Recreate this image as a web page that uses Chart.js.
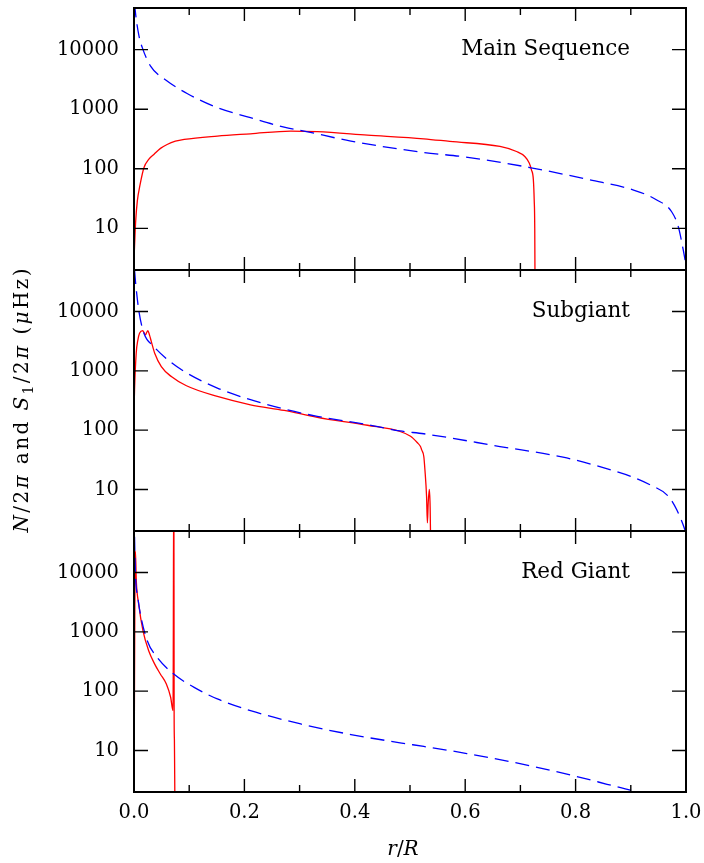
<!DOCTYPE html>
<html>
<head>
<meta charset="utf-8">
<script src="https://cdn.jsdelivr.net/npm/chart.js@4"></script>
<style>
  body { margin: 0; background: #fff; }
  #wrap { position: relative; width: 704px; height: 863px; }
  #wrap canvas { position: absolute; left: 0; top: 0; }
</style>
</head>
<body>
<div id="wrap">
  <canvas id="p1" width="704" height="863"></canvas>
  <canvas id="p2" width="704" height="863"></canvas>
  <canvas id="p3" width="704" height="863"></canvas>
</div>
<script>
// tick values
const xTicks = [0, 0.1, 0.2, 0.3, 0.4, 0.5, 0.6, 0.7, 0.8, 0.9, 1.0];
const yTicks = [10, 100, 1000, 10000];

// Main sequence
const msRN = [0.001, 0.003, 0.009, 0.015, 0.030, 0.060, 0.097, 0.151, 0.211, 0.272, 0.308, 0.393, 0.525, 0.600, 0.717, 0.826, 0.905, 0.947, 0.974, 0.986, 0.995, 1.0];
const msN  = [60000, 39000, 17000, 10800, 5300, 2980, 1820, 1060, 720, 500, 430, 292, 188, 158, 105, 65, 44, 30, 19, 10.7, 4.35, 2.4];
const msRS = [0.0, 0.001, 0.003, 0.006, 0.011, 0.018, 0.027, 0.036, 0.048, 0.060, 0.075, 0.091, 0.151, 0.211, 0.284, 0.332, 0.423, 0.525, 0.572, 0.663, 0.693, 0.708, 0.716, 0.720, 0.7235, 0.725, 0.726, 0.7265];
const msS  = [3, 5, 13, 28.6, 54, 104, 145, 174, 220, 256, 290, 311, 354, 387, 430, 419, 368, 319, 288, 237, 195, 161, 125, 96, 65, 30, 10, 1];

// Subgiant
const sgRN = [0.001, 0.003, 0.009, 0.018, 0.036, 0.060, 0.091, 0.151, 0.211, 0.272, 0.332, 0.423, 0.482, 0.525, 0.663, 0.784, 0.874, 0.905, 0.935, 0.968, 0.983, 0.998, 1.0];
const sgN  = [50000, 29800, 10000, 4300, 2560, 1570, 973, 512, 326, 227, 171, 124, 97, 87, 53, 34, 20, 16, 12, 7.7, 4.6, 2.1, 1.8];
const sgRS = [0.0, 0.001, 0.004, 0.007, 0.010, 0.016, 0.0205, 0.025, 0.028, 0.0314, 0.0375, 0.0495, 0.0676, 0.095, 0.151, 0.211, 0.272, 0.332, 0.423, 0.482, 0.501, 0.513, 0.519, 0.521, 0.525, 0.527, 0.530, 0.5315, 0.533, 0.535, 0.5365, 0.5375];
const sgS  = [200, 480, 1980, 3300, 4300, 4750, 4030, 4750, 4030, 3100, 1980, 1180, 800, 560, 370, 268, 215, 165, 121, 95, 79, 62, 53, 47, 36, 21.7, 7.7, 2.75, 6, 10, 5, 1];

// Red giant
const rgRN = [0.001, 0.0025, 0.007, 0.012, 0.024, 0.042, 0.072, 0.109, 0.151, 0.211, 0.302, 0.393, 0.482, 0.525, 0.603, 0.723, 0.802, 0.857, 0.905, 0.95, 1.0];
const rgN  = [40000, 10000, 3770, 1900, 706, 370, 194, 116, 74, 47, 28, 18.6, 13.5, 11.7, 8.9, 5.4, 3.65, 2.7, 2.07, 1.5, 0.8];
const rgRS = [0.0, 0.0025, 0.0042, 0.0085, 0.0163, 0.0266, 0.0375, 0.0477, 0.0586, 0.0664, 0.0707, 0.0722, 0.0727, 0.0732, 0.0737, 0.0742];
const rgS  = [2, 23000, 7200, 2930, 1040, 480, 286, 195, 132, 79, 47, 1e6, 40, 15, 4, 1];

Chart.defaults.font.family = "'DejaVu Serif', serif";
Chart.defaults.font.size = 19.5;
Chart.defaults.color = '#000';

const W = 704, H = 863;

function pts(r, v) {
  return r.map((x, i) => ({ x: x, y: v[i] }));
}

function isTick(v, list) {
  return list.some(t => Math.abs(v - t) < 1e-6 * t + 1e-9);
}

// draw a row of text pieces (mixed upright / italic / subscript) char by char
function drawPieces(ctx, parts, x0, y0, gap, center) {
  const fontOf = k => k === 'i' ? "italic 20px 'DejaVu Serif'" : k === 's' ? "14px 'DejaVu Serif'" : "20px 'DejaVu Serif'";
  let total = 0;
  parts.forEach(p => {
    ctx.font = fontOf(p[1]);
    for (const ch of p[0]) total += ctx.measureText(ch).width + gap;
  });
  total -= gap;
  let cx = center ? x0 - total / 2 : x0;
  ctx.textAlign = 'left';
  parts.forEach(p => {
    ctx.font = fontOf(p[1]);
    for (const ch of p[0]) {
      ctx.fillText(ch, cx, y0 + (p[1] === 's' ? 5 : 0));
      cx += ctx.measureText(ch).width + gap;
    }
  });
}

const framePlugin = {
  id: 'frame',
  afterDatasetsDraw(chart, args, opts) {
    const ctx = chart.ctx;
    const a = chart.chartArea;
    const x = chart.scales.x, y = chart.scales.y;
    ctx.save();
    ctx.strokeStyle = '#000';
    ctx.lineWidth = 1.4;
    ctx.beginPath();
    xTicks.forEach((t, i) => {
      const px = x.getPixelForValue(t);
      const len = i % 2 === 0 ? 13 : 7;
      ctx.moveTo(px, a.top); ctx.lineTo(px, a.top + len);
      ctx.moveTo(px, a.bottom); ctx.lineTo(px, a.bottom - len);
    });
    yTicks.forEach(t => {
      const py = y.getPixelForValue(t);
      ctx.moveTo(a.left, py); ctx.lineTo(a.left + 14, py);
      ctx.moveTo(a.right, py); ctx.lineTo(a.right - 14, py);
    });
    ctx.stroke();
    ctx.lineWidth = 2;
    ctx.strokeRect(a.left, a.top, a.right - a.left, a.bottom - a.top);

    ctx.fillStyle = '#000';
    ctx.font = "21.5px 'DejaVu Serif'";
    ctx.textAlign = 'right';
    ctx.textBaseline = 'alphabetic';
    ctx.fillText(opts.label, a.right - 56, a.top + 47);

    if (opts.yTitle) {
      const parts = [['N', 'i'], ['/2', 'n'], ['π', 'i'], [' and ', 'n'], ['S', 'i'], ['1', 's'],
                     ['/2', 'n'], ['π', 'i'], [' (', 'n'], ['μ', 'i'], ['Hz)', 'n']];
      ctx.translate(28, (a.top + a.bottom) / 2);
      ctx.rotate(-Math.PI / 2);
      drawPieces(ctx, parts, 0, 0, 2.4, true);
      ctx.setTransform(1, 0, 0, 1, 0, 0);
    }

    if (opts.xTitle) {
      drawPieces(ctx, [['r', 'i'], ['/', 'n'], ['R', 'i']], 403, 855, 0, true);
    }
    ctx.restore();
  }
};

function makePanel(id, label, rN, vN, rS, vS, top, bottom, showX, yTitle) {
  const xH = showX ? 71 : 0;
  new Chart(document.getElementById(id), {
    type: 'line',
    data: {
      datasets: [
        { label: 'N/2π', data: pts(rN, vN), borderColor: '#0000ff', borderWidth: 1.3,
          borderDash: [14, 7], pointRadius: 0, fill: false, cubicInterpolationMode: 'monotone' },
        { label: 'S1/2π', data: pts(rS, vS), borderColor: '#ff0000', borderWidth: 1.3,
          pointRadius: 0, fill: false, cubicInterpolationMode: 'monotone' }
      ]
    },
    options: {
      responsive: false,
      animation: false,
      devicePixelRatio: 1,
      layout: { padding: { left: 0, right: 18, top: top, bottom: H - bottom - xH } },
      plugins: {
        legend: { display: false },
        tooltip: { enabled: false },
        frame: { label: label, yTitle: yTitle, xTitle: showX }
      },
      scales: {
        x: {
          type: 'linear', min: 0, max: 1, display: showX,
          grid: { display: false, drawTicks: false },
          border: { display: false },
          ticks: {
            stepSize: 0.1, autoSkip: false, maxRotation: 0, padding: 9,
            callback: v => isTick(v, xTicks) && Math.round(v * 10) % 2 === 0 ? v.toFixed(1) : null
          },
          afterFit: s => { s.height = xH; s.paddingLeft = 0; s.paddingRight = 0; }
        },
        y: {
          type: 'logarithmic', min: 2, max: 50000,
          grid: { display: false, drawTicks: false },
          border: { display: false },
          ticks: {
            autoSkip: false, padding: 15,
            callback: v => isTick(v, yTicks) ? String(v) : null
          },
          afterFit: s => { s.width = 134; s.paddingTop = 0; s.paddingBottom = 0; }
        }
      }
    },
    plugins: [framePlugin]
  });
}

makePanel('p1', 'Main Sequence', msRN, msN, msRS, msS, 8, 270, false, false);
makePanel('p2', 'Subgiant', sgRN, sgN, sgRS, sgS, 270, 531, false, true);
makePanel('p3', 'Red Giant', rgRN, rgN, rgRS, rgS, 531, 792, true, false);
</script>
</body>
</html>
